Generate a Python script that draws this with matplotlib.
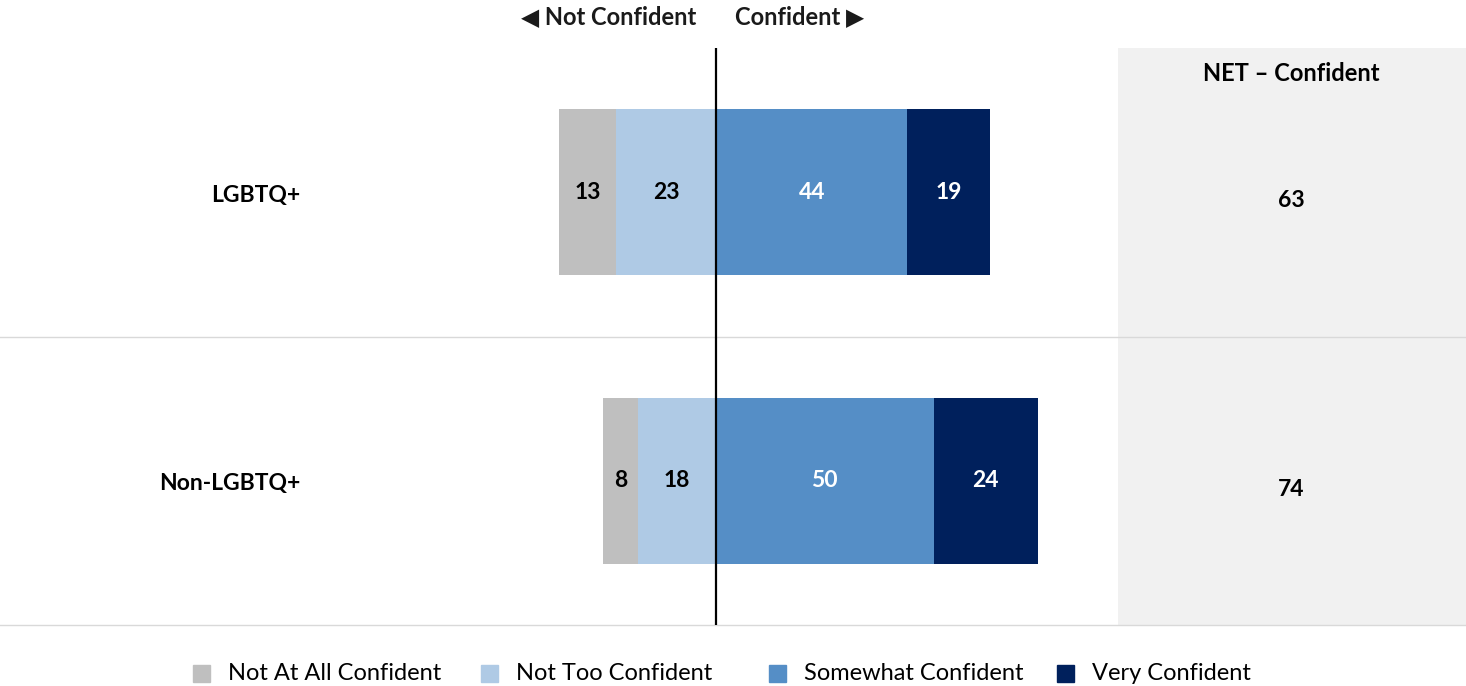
import matplotlib
matplotlib.use('Agg')
import matplotlib.pyplot as plt
from matplotlib.patches import Rectangle

groups = ['LGBTQ+', 'Non-LGBTQ+']
not_at_all = [13, 8]
not_too = [23, 18]
somewhat = [44, 50]
very = [19, 24]
net_confident = [63, 74]
legend_labels = ['Not At All Confident', 'Not Too Confident', 'Somewhat Confident', 'Very Confident']
colors = ['#BFBFBF', '#AFCAE5', '#558EC6', '#00205C']
text_colors = ['black', 'black', 'white', 'white']

plt.rcParams['font.family'] = ['Lato', 'DejaVu Sans']

W, H = 1466, 686
fig = plt.figure(figsize=(W / 100, H / 100), dpi=100)

# main axes spans full width; 0 sits at x=716px, ~4.35 px per point
scale = 4.35
x0 = 716
ax = fig.add_axes([0, 1 - 625 / H, 1, (625 - 48) / H])
ax.set_xlim(-x0 / scale, (W - x0) / scale)
ax.set_ylim(1.5, -0.5)
ax.axis('off')

# grey NET panel
panel_left = (1118 - x0) / scale
ax.add_patch(Rectangle((panel_left, -0.5), (W - x0) / scale - panel_left, 2,
                       color='#F1F1F1', zorder=0, lw=0))

# row separators
for yy in [0.5, 1.5]:
    ax.axhline(yy, color='#D9D9D9', lw=1, zorder=1, clip_on=False)

bar_h = 0.575
for i, g in enumerate(groups):
    segs = [(-not_at_all[i] - not_too[i], not_at_all[i]),
            (-not_too[i], not_too[i]),
            (0, somewhat[i]),
            (somewhat[i], very[i])]
    for k, (left, width) in enumerate(segs):
        ax.barh(i, width, left=left, height=bar_h, color=colors[k], zorder=2)
        ax.text(left + width / 2, i, str(abs(width)), ha='center', va='center',
                fontsize=16.5, fontweight='bold', color=text_colors[k], zorder=3)
    ax.text((300 - x0) / scale, i + 0.01, g, ha='right', va='center',
            fontsize=16.5, fontweight='bold', color='black')
    ax.text((1291 - x0) / scale, i + 0.03, str(net_confident[i]), ha='center', va='center',
            fontsize=16.5, fontweight='bold', color='black')

ax.axvline(0, color='black', lw=1.6, zorder=4)

ax.text((1291 - x0) / scale, -0.41, 'NET \u2013 Confident', ha='center', va='center',
        fontsize=17, fontweight='bold')

# direction headers
fig.text(696 / W, 1 - 17 / H, '\u25c0 Not Confident', ha='right', va='center',
         fontsize=17, fontweight='bold', color='#1a1a1a')
fig.text(735 / W, 1 - 17 / H, 'Confident \u25b6', ha='left', va='center',
         fontsize=17, fontweight='bold', color='#1a1a1a')

# legend with equal column spacing
for k, lab in enumerate(legend_labels):
    sx = 193 + 288 * k
    fig.patches.append(Rectangle((sx / W, 1 - 682 / H), 17 / W, 17 / H,
                                 color=colors[k], transform=fig.transFigure, figure=fig))
    fig.text((sx + 35) / W, 1 - 673 / H, lab, ha='left', va='center', fontsize=17)

fig.savefig('out.png', dpi=100)
